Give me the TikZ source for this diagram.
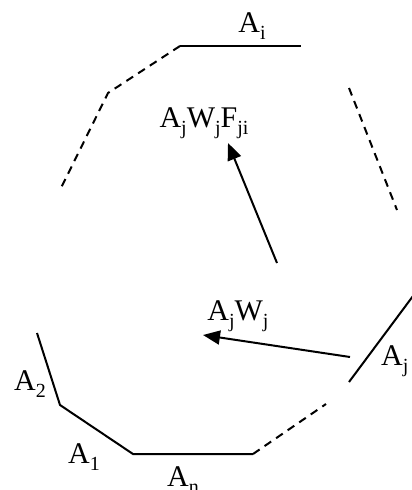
\documentclass[tikz,border=0pt]{standalone}
\usepackage{fontspec}
\setmainfont{Liberation Serif}
\usetikzlibrary{arrows.meta}
\tikzset{
  wall/.style={line width=2pt, line cap=butt},
  gap/.style={line width=2pt, dash pattern=on 8pt off 6pt},
  flux/.style={line width=2pt, -{Triangle[length=17pt,width=14pt]}},
  lbl/.style={font=\fontsize{30}{34}\selectfont, inner sep=0pt, anchor=base}
}
\newcommand{\sbs}[1]{\raisebox{-0.26em}{\fontsize{20}{22}\selectfont #1}}
\begin{document}
\begin{tikzpicture}[x=1pt,y=-1pt]
\useasboundingbox (0,0) rectangle (412,490);
% vertices
\coordinate (ti1) at (180,46);
\coordinate (ti2) at (301,46);
\coordinate (tl1) at (108,93);
\coordinate (tl2) at (60,190);
\coordinate (tr1) at (349,88);
\coordinate (tr2) at (397,210);
\coordinate (a2t) at (37,333);
\coordinate (a2b) at (60,405);
\coordinate (anl) at (133,454);
\coordinate (anr) at (253,454);
\coordinate (bd) at (326,404);
\coordinate (ajb) at (349,382);
\coordinate (ajt) at (413,296);
\coordinate (f1s) at (277,263);
\coordinate (f1e) at (228,143);
\coordinate (f2s) at (350,357);
\coordinate (f2e) at (203,335);
% walls
\draw[wall] (ti1) -- (ti2);
\draw[gap] (ti1) -- (tl1) -- (tl2);
\draw[gap] (tr1) -- (tr2);
\draw[wall] (a2t) -- (a2b) -- (anl) -- (anr);
\draw[gap] (anr) -- (bd);
\draw[wall] (ajb) -- (ajt);
% fluxes
\draw[flux] (f1s) -- (f1e);
\draw[flux] (f2s) -- (f2e);
% labels
\node[lbl] (li) at (252,32) {A\sbs{i}};
\node[lbl] (lf) at (204,127) {A\sbs{j}W\sbs{j}F\sbs{ji}};
\node[lbl] (lw) at (238,320) {A\sbs{j}W\sbs{j}};
\node[lbl, anchor=base west] (lj) at (381,365) {A\sbs{j}};
\node[lbl] (l2) at (30,390) {A\sbs{2}};
\node[lbl] (l1) at (84,463) {A\sbs{1}};
\node[lbl] (ln) at (183,486) {A\sbs{n}};
\end{tikzpicture}
\end{document}
